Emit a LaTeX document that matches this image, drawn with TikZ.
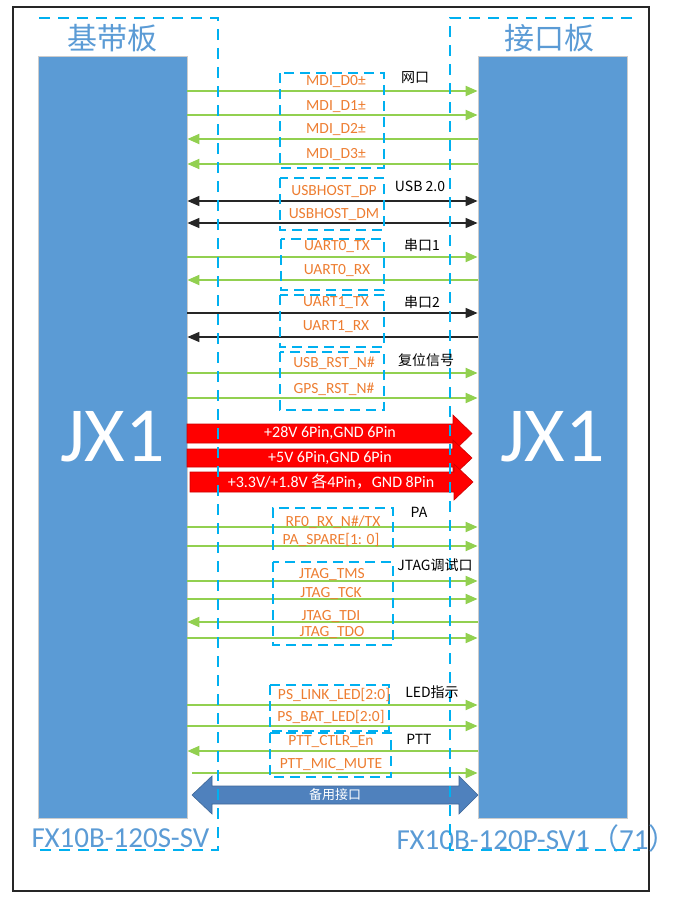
\documentclass[tikz,border=0pt]{standalone}
\usepackage{fontspec}
\setmainfont{Carlito}
\newfontfamily\cjk{Noto Sans CJK SC}
\usetikzlibrary{arrows.meta}
\definecolor{boxblue}{HTML}{5B9BD5}
\definecolor{grn}{HTML}{92D050}
\definecolor{org}{HTML}{ED7D31}
\definecolor{cyn}{HTML}{00B0F0}
\definecolor{steel}{HTML}{4F81BD}
\definecolor{ttl}{HTML}{5B9BD5}
\begin{document}
\begin{tikzpicture}[x=1pt,y=-1pt,
  board/.style={fill=boxblue, draw=black!20, line width=0.8pt, minimum width=149pt, minimum height=762pt, inner sep=0pt, text=white, font=\fontsize{78}{80}\selectfont},
  ttlt/.style={text=ttl, inner sep=0pt, font=\cjk\fontsize{30}{32}\selectfont},
  part/.style={text=ttl, inner sep=0pt, font=\fontsize{29}{31}\selectfont},
  grpbig/.style={draw=cyn, line width=1.6pt, dash pattern=on 11pt off 8pt},
  grp/.style={draw=cyn, line width=1.3pt, dash pattern=on 10pt off 6pt},
  sig/.style={inner sep=0pt, text=org, font=\fontsize{15.5}{17}\selectfont},
  tag/.style={inner sep=0pt, text=black, font=\cjk\fontsize{14}{16}\selectfont},
  ga/.style={draw=grn, line width=2pt, -{Triangle[length=12pt,width=10pt]}},
  ba/.style={draw=black!85, line width=1.5pt, {Triangle[length=12pt,width=10pt]}-{Triangle[length=12pt,width=10pt]}},
  bk/.style={draw=black!85, line width=1.5pt, -{Triangle[length=12pt,width=10pt]}},
  pwr/.style={fill=red, draw=red!80!black, line width=0.6pt},
  pwrtxt/.style={inner sep=0pt, text=white, font=\fontsize{16}{18}\selectfont},
  bkup/.style={fill=steel, draw=steel!80!black, line width=0.6pt},
]
\useasboundingbox (0,0) rectangle (679,899);
% outer frame
\draw[line width=1.5pt, draw=black!85] (13,7) rectangle (649,891);

% boards
\node[board] (L) at (112.5,437) {JX1};
\node[board] (R) at (552.5,437) {JX1};
\node[ttlt] (tl) at (112,38.5) {基带板};
\node[ttlt] (tr) at (549,38.5) {接口板};
\node[part] (pl) at (120.5,838) {FX10B-120S-SV};
\node[part] (pr) at (537,838) {FX10B-120P-SV1{\cjk （}71{\cjk ）}};

% row coordinates
\foreach \n/\y in {m1/91,m2/115,m3/139,m4/164,u1/201,u2/223,a1/257,a2/280,b1/313,b2/337,r1/373,r2/398,p1/527,p2/546,j1/581,j2/599,j3/622,j4/638,l1/705,l2/726,t1/751,t2/773}
  \coordinate (\n) at (0,\y);
\coordinate (micstart) at (192,773);

% signal connectors
\draw[ga] (L.east |- m1) -- (R.west |- m1);
\draw[ga] (L.east |- m2) -- (R.west |- m2);
\draw[ga] (R.west |- m3) -- (L.east |- m3);
\draw[ga] (R.west |- m4) -- (L.east |- m4);
\draw[ba] (L.east |- u1) -- (R.west |- u1);
\draw[ba] (L.east |- u2) -- (R.west |- u2);
\draw[ga] (L.east |- a1) -- (R.west |- a1);
\draw[ga] (R.west |- a2) -- (L.east |- a2);
\draw[bk] (L.east |- b1) -- (R.west |- b1);
\draw[bk] (R.west |- b2) -- (L.east |- b2);
\draw[ga] (L.east |- r1) -- (R.west |- r1);
\draw[ga] (L.east |- r2) -- (R.west |- r2);
\draw[ga] (L.east |- p1) -- (R.west |- p1);
\draw[ga] (L.east |- p2) -- (R.west |- p2);
\draw[ga] (L.east |- j1) -- (R.west |- j1);
\draw[ga] (L.east |- j2) -- (R.west |- j2);
\draw[ga] (R.west |- j3) -- (L.east |- j3);
\draw[ga] (L.east |- j4) -- (R.west |- j4);
\draw[ga] (L.east |- l1) -- (R.west |- l1);
\draw[ga] (L.east |- l2) -- (R.west |- l2);
\draw[ga] (R.west |- t1) -- (L.east |- t1);
\draw[ga] (micstart) -- (R.west |- t2);

% power arrows
\filldraw[pwr] (187,424) -- (453,424) -- (453,415) -- (472,433.5) -- (453,452) -- (453,443) -- (187,443) -- cycle;
\node[pwrtxt] (v28) at (330,433.5) {+28V 6Pin,GND 6Pin};
\filldraw[pwr] (187,449) -- (453,449) -- (453,440) -- (472,458) -- (453,476) -- (453,467) -- (187,467) -- cycle;
\node[pwrtxt] (v5) at (330,458) {+5V 6Pin,GND 6Pin};
\filldraw[pwr] (190,472) -- (454,472) -- (454,464) -- (473,482) -- (454,500) -- (454,492) -- (190,492) -- cycle;
\node[pwrtxt] (v33) at (331,482) {+3.3V/+1.8V {\cjk 各}4Pin{\cjk ，}GND 8Pin};

% backup arrow
\filldraw[bkup] (192,795) -- (212,776) -- (212,786) -- (459,786) -- (459,776) -- (478,795) -- (459,814) -- (459,804) -- (212,804) -- (212,814) -- cycle;
\node[inner sep=0pt, text=white, font=\cjk\fontsize{13}{15}\selectfont] (bk) at (335,795) {备用接口};

% group outlines
\draw[grpbig] (39,18) -- (218,18) -- (218,850) -- (39,850);
\draw[grpbig] (632,18) -- (450,18) -- (450,850) -- (640,850);
\draw[grp] (280,73) rectangle (384,168);
\draw[grp] (280,178) rectangle (384,230);
\draw[grp] (281,239) rectangle (384,290);
\draw[grp] (280,295) rectangle (384,347);
\draw[grp] (280,352) rectangle (384,410);
\draw[grp] (273,550) -- (273,508) -- (393,508) -- (393,550);
\draw[grp] (273,562) rectangle (393,645);
\draw[grp] (270,685) rectangle (389,731);
\draw[grp] (270,733) rectangle (391,777);

% signal labels
\node[sig] (s1) at (336,82) {MDI\_D0±};
\node[sig] (s2) at (336,107) {MDI\_D1±};
\node[sig] (s3) at (336,130) {MDI\_D2±};
\node[sig] (s4) at (336,155) {MDI\_D3±};
\node[sig] (s5) at (334,192) {USBHOST\_DP};
\node[sig] (s6) at (334,215) {USBHOST\_DM};
\node[sig] (s7) at (337,247) {UART0\_TX};
\node[sig] (s8) at (337,271) {UART0\_RX};
\node[sig] (s9) at (336,303) {UART1\_TX};
\node[sig] (s10) at (336,327) {UART1\_RX};
\node[sig] (s11) at (334,363) {USB\_RST\_N\#};
\node[sig] (s12) at (334,389) {GPS\_RST\_N\#};
\node[sig] (s13) at (333,522) {RF0\_RX\_N\#/TX};
\node[sig] (s14) at (331,540) {PA\_SPARE[1: 0]};
\node[sig] (s15) at (332,575) {JTAG\_TMS};
\node[sig] (s16) at (331,594) {JTAG\_TCK};
\node[sig] (s17) at (331,617) {JTAG\_TDI};
\node[sig] (s18) at (332,633) {JTAG\_TDO};
\node[sig] (s19) at (334,695) {PS\_LINK\_LED[2:0]};
\node[sig] (s20) at (331,717) {PS\_BAT\_LED[2:0]};
\node[sig] (s21) at (331,742) {PTT\_CTLR\_En};
\node[sig] (s22) at (331,765) {PTT\_MIC\_MUTE};

% group tags
\node[tag] (g1) at (415,78) {网口};
\node[tag] (g2) at (420,186) {USB 2.0};
\node[tag] (g3) at (422,245) {串口1};
\node[tag] (g4) at (422,302) {串口2};
\node[tag] (g5) at (426,360) {复位信号};
\node[tag] (g6) at (419,512) {PA};
\node[tag] (g7) at (435,565) {JTAG调试口};
\node[tag] (g8) at (432,692) {LED指示};
\node[tag] (g9) at (419,739) {PTT};
\end{tikzpicture}
\end{document}
